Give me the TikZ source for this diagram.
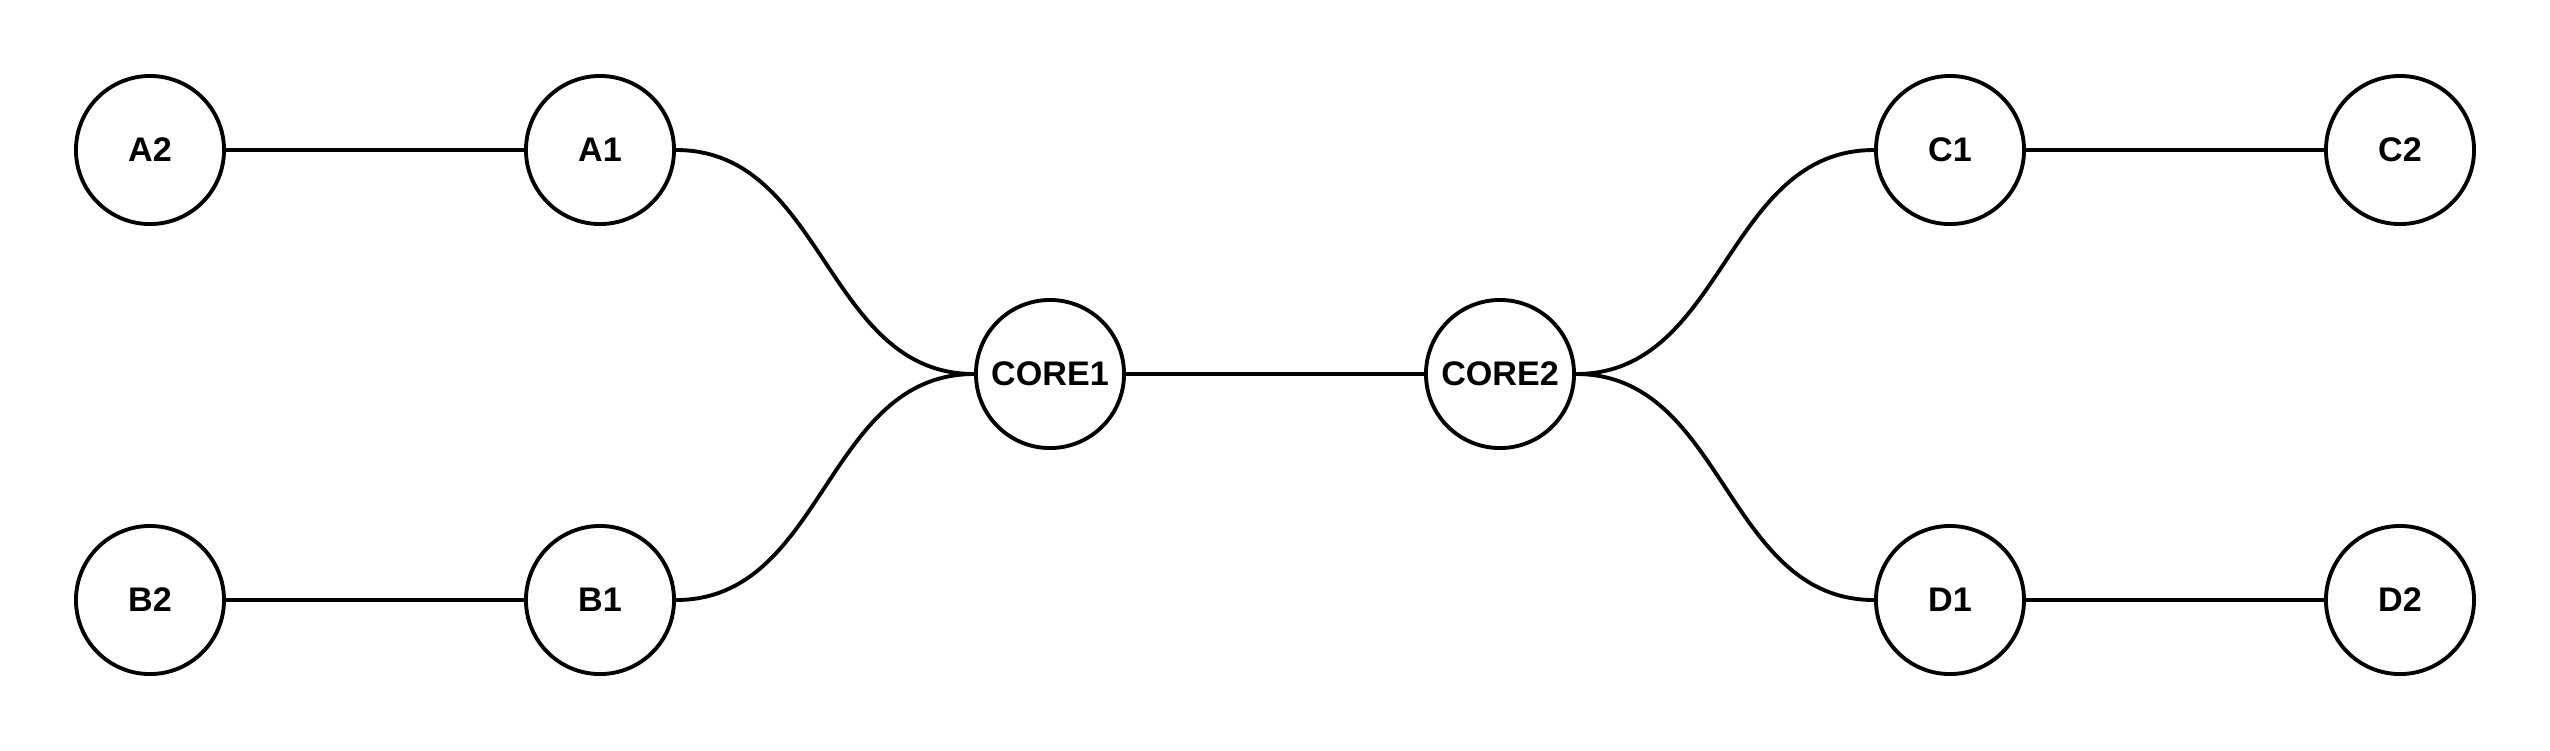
\documentclass[tikz,border=0pt]{standalone}
\usepackage{fontspec}
\setmainfont{Liberation Sans}
\begin{document}
\begin{tikzpicture}[x=0.01cm,y=-0.01cm,
  netnode/.style={circle,draw=black,line width=1.1pt,minimum size=1.48cm,inner sep=0pt,font=\fontsize{9.7pt}{11pt}\selectfont\bfseries},
  link/.style={draw=black,line width=1.1pt}]
\useasboundingbox (0,0) rectangle (2550,750);
\node[netnode] (A2) at (150,150) {A2};
\node[netnode] (A1) at (600,150) {A1};
\node[netnode] (B2) at (150,600) {B2};
\node[netnode] (B1) at (600,600) {B1};
\node[netnode] (CORE1) at (1050,374) {CORE1};
\node[netnode] (CORE2) at (1500,374) {CORE2};
\node[netnode] (C1) at (1950,150) {C1};
\node[netnode] (C2) at (2400,150) {C2};
\node[netnode] (D1) at (1950,600) {D1};
\node[netnode] (D2) at (2400,600) {D2};
\draw[link] (A2) -- (A1);
\draw[link] (B2) -- (B1);
\draw[link] (C1) -- (C2);
\draw[link] (D1) -- (D2);
\draw[link] (CORE1) -- (CORE2);
\draw[link] (A1.east) .. controls (825,150) and (825,374) .. (CORE1.west);
\draw[link] (B1.east) .. controls (825,600) and (825,374) .. (CORE1.west);
\draw[link] (CORE2.east) .. controls (1725,374) and (1725,150) .. (C1.west);
\draw[link] (CORE2.east) .. controls (1725,374) and (1725,600) .. (D1.west);
\end{tikzpicture}
\end{document}
